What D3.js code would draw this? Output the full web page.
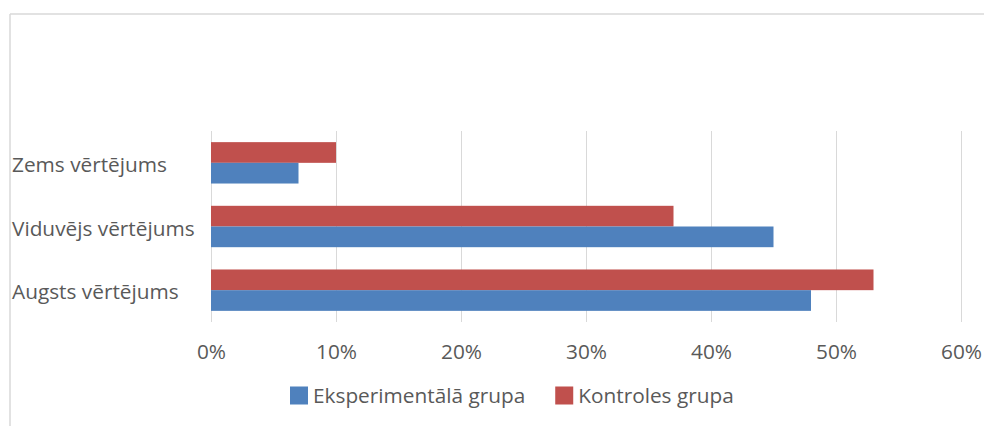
<!DOCTYPE html>
<html>
<head>
<meta charset="utf-8">
<script src="https://cdn.jsdelivr.net/npm/d3@7"></script>
<style>
  html, body { margin: 0; padding: 0; background: #fff; }
  svg { display: block; }
  text { font-family: "Open Sans", "Noto Sans", sans-serif; fill: #595959; }
</style>
</head>
<body>
<svg id="chart" width="984" height="426"></svg>
<script>
const categories = ["Zems vērtējums", "Viduvējs vērtējums", "Augsts vērtējums"];
const seriesNames = ["Kontroles grupa", "Eksperimentālā grupa"];
const kontroles = [10, 37, 53];
const eksperimentala = [7, 45, 48];
const xTicks = [0, 10, 20, 30, 40, 50, 60];
const legendOrder = ["Eksperimentālā grupa", "Kontroles grupa"];
const colors = { "Eksperimentālā grupa": "#4F81BD", "Kontroles grupa": "#C0504D" };

const svg = d3.select("#chart");
const W = 984, H = 426;
const plot = { left: 211, right: 961, top: 131, bottom: 322 };
const fontSize = 20.8;

// outer frame (top and left edges visible)
svg.append("line").attr("x1", 10).attr("x2", W).attr("y1", 14).attr("y2", 14)
  .attr("stroke", "#d9d9d9").attr("stroke-width", 1.5);
svg.append("line").attr("x1", 10).attr("x2", 10).attr("y1", 14).attr("y2", H)
  .attr("stroke", "#d9d9d9").attr("stroke-width", 1.5);

const x = d3.scaleLinear().domain([0, 60]).range([plot.left, plot.right]);
const y = d3.scaleBand().domain(categories).range([plot.top, plot.bottom]).paddingInner(0.35).paddingOuter(0.175);
const yInner = d3.scaleBand().domain(seriesNames).range([0, y.bandwidth()]);

// gridlines
svg.append("g").selectAll("line").data(xTicks).join("line")
  .attr("x1", d => x(d) + 0.5).attr("x2", d => x(d) + 0.5)
  .attr("y1", plot.top).attr("y2", plot.bottom)
  .attr("stroke", "#d9d9d9").attr("stroke-width", 1);

// bars
const data = [
  { name: "Kontroles grupa", values: kontroles },
  { name: "Eksperimentālā grupa", values: eksperimentala }
];
data.forEach(s => {
  svg.append("g").selectAll("rect").data(s.values).join("rect")
    .attr("x", x(0))
    .attr("y", (d, i) => y(categories[i]) + yInner(s.name))
    .attr("width", d => x(d) - x(0))
    .attr("height", yInner.bandwidth())
    .attr("fill", colors[s.name]);
});

// x axis labels
const xAxis = d3.axisBottom(x).tickValues(xTicks).tickFormat(d => d + "%").tickSize(0).tickPadding(0);
const gx = svg.append("g").attr("transform", `translate(0, ${plot.bottom + 24})`).call(xAxis);
gx.select(".domain").remove();
gx.selectAll("text").style("font-size", fontSize + "px").attr("fill", "#595959")
  .attr("font-family", null).attr("dy", "0.32em").attr("y", 6);

// category labels (left aligned)
svg.append("g").selectAll("text").data(categories).join("text")
  .attr("x", 12)
  .attr("y", d => y(d) + y.bandwidth() / 2 + 2)
  .attr("dy", "0.35em")
  .style("font-size", fontSize + "px")
  .text(d => d);

// legend
const leg = svg.append("g");
let lx = 290;
const ly = 395.5;
legendOrder.forEach(name => {
  leg.append("rect").attr("x", lx).attr("y", ly - 9).attr("width", 18).attr("height", 18)
    .attr("fill", colors[name]);
  const t = leg.append("text").attr("x", lx + 23).attr("y", ly).attr("dy", "0.35em")
    .style("font-size", fontSize + "px").text(name);
  lx = lx + 23 + t.node().getComputedTextLength() + 30;
});
</script>
</body>
</html>
